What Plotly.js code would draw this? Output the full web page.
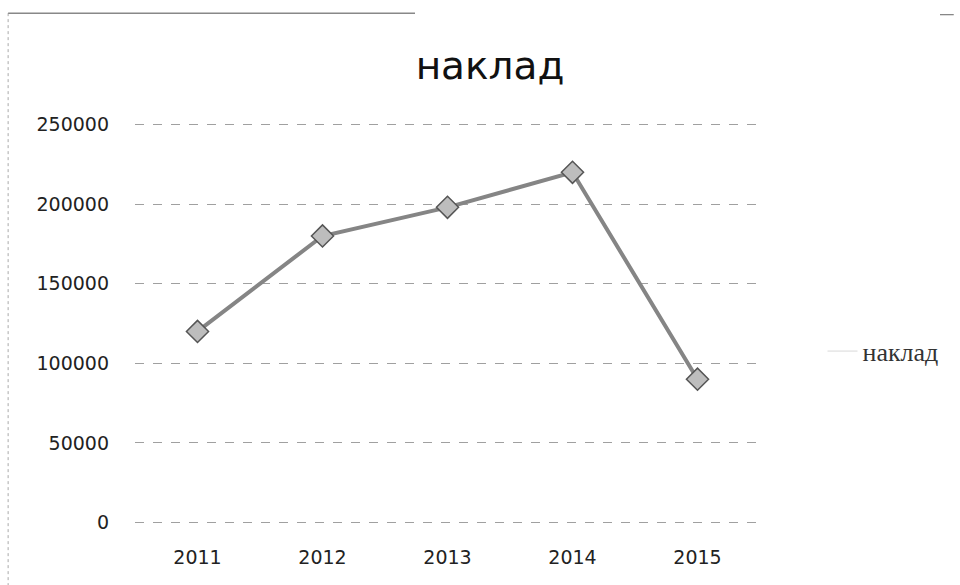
<!DOCTYPE html>
<html>
<head>
<meta charset="utf-8">
<script src="https://cdn.plot.ly/plotly-3.0.1.min.js"></script>
<style>html,body{margin:0;padding:0;background:#fff;}#chart{width:960px;height:585px;}</style>
</head>
<body>
<div id="chart"></div>
<script>
const years = ['2011', '2012', '2013', '2014', '2015'];
const naklad = [120000, 180000, 198000, 220000, 90000];
const yTicks = [0, 50000, 100000, 150000, 200000, 250000];
const seriesName = 'наклад';
const chartTitle = 'наклад';

const trace = {
  x: years,
  y: naklad,
  type: 'scatter',
  mode: 'lines+markers',
  name: seriesName,
  showlegend: false,
  line: {color: '#858585', width: 4},
  marker: {symbol: 'diamond', size: 17, color: '#bdbdbd', line: {color: '#555', width: 1.5}}
};

// legend entry only (faint symbol, as in the scanned original); no points drawn
const legendTrace = {
  x: [years[0]], y: [null],
  type: 'scatter',
  mode: 'lines',
  name: seriesName,
  showlegend: true,
  hoverinfo: 'skip',
  line: {color: '#d8d8d8', width: 1}
};

const tickFont = {family: 'DejaVu Sans, sans-serif', size: 19, color: '#222'};

const layout = {
  width: 960, height: 585,
  paper_bgcolor: '#ffffff', plot_bgcolor: '#ffffff',
  margin: {l: 135, r: 200, t: 123, b: 61},
  title: {text: chartTitle, xref: 'paper', x: 0.568, xanchor: 'center', y: 0.888, yanchor: 'middle',
    font: {family: 'DejaVu Sans, sans-serif', size: 39, color: '#111'}},
  xaxis: {
    type: 'category', range: [-0.5, 4.5], showgrid: false, zeroline: false,
    showline: false, ticks: '', tickfont: tickFont,
    ticklabelstandoff: 20
  },
  yaxis: {
    range: [-1000, 251000], tickvals: yTicks, ticktext: yTicks.map(String),
    showgrid: true, gridcolor: '#a0a0a0', griddash: 'dash', gridwidth: 1,
    zeroline: false, showline: false, ticks: '',
    tickfont: tickFont,
    ticklabelstandoff: 25
  },
  showlegend: true,
  legend: {x: 1.10, y: 0.431, xanchor: 'left', yanchor: 'middle', bgcolor: 'rgba(0,0,0,0)',
    font: {family: 'Liberation Serif, serif', size: 26, color: '#333'}, itemwidth: 30},
  shapes: [
    {type: 'line', xref: 'paper', yref: 'paper', x0: -0.203, x1: -0.203, y0: 1.274, y1: -0.16,
      line: {color: '#aaa', width: 1, dash: 'dot'}},
    {type: 'line', xref: 'paper', yref: 'paper', x0: -0.203, x1: 0.448, y0: 1.274, y1: 1.274,
      line: {color: '#888', width: 1.5}},
    {type: 'line', xref: 'paper', yref: 'paper', x0: 1.288, x1: 1.31, y0: 1.27, y1: 1.27,
      line: {color: '#666', width: 1}}
  ]
};

Plotly.newPlot('chart', [trace, legendTrace], layout, {displayModeBar: false, staticPlot: true});
</script>
</body>
</html>
